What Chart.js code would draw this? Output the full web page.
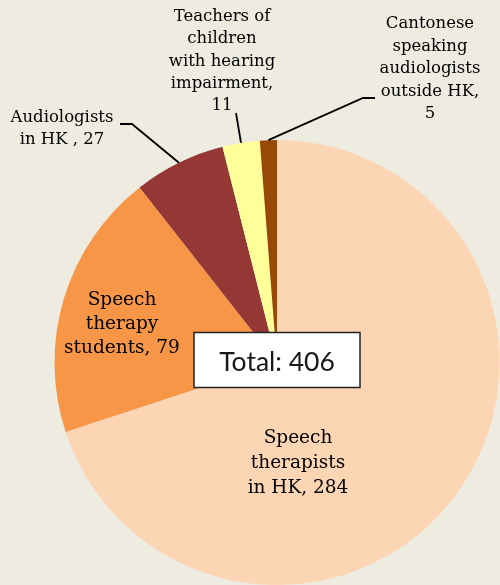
<!DOCTYPE html>
<html>
<head>
<meta charset="utf-8">
<script src="https://cdn.jsdelivr.net/npm/chart.js@4.4.1/dist/chart.umd.min.js"></script>
<style>
  html, body { margin: 0; padding: 0; background: #EEEBE0; }
  #wrap { width: 500px; height: 585px; position: relative; }
</style>
</head>
<body>
<div id="wrap"><canvas id="pie"></canvas></div>
<script>
// data
const labels = [
    ['Speech', 'therapists', 'in HK, 284'],
    ['Speech', 'therapy', 'students, 79'],
    ['Audiologists', 'in HK , 27'],
    ['Teachers of', 'children', 'with hearing', 'impairment,', '11'],
    ['Cantonese', 'speaking', 'audiologists', 'outside HK,', '5']
];
const counts = [284, 79, 27, 11, 5];
const totalText = 'Total: 406';

const colors = ['#FCD5B5', '#F79646', '#953735', '#FFFF99', '#984807'];

// label placement: inside labels use a fixed spot, outside ones get a leader line
const labelLayout = [
    { inside: true, x: 298, y: 438, lh: 25 },
    { inside: true, x: 122, y: 300, lh: 24 },
    { inside: false, x: 62, y: 118, lh: 22, elbow: [132, 124], end: [120, 124] },
    { inside: false, x: 222, y: 17, lh: 22.2, elbow: null, end: [236, 113] },
    { inside: false, x: 430, y: 24, lh: 22.5, elbow: [363, 98], end: [375, 98] }
];

const labelPlugin = {
    id: 'pieLabels',
    afterDatasetsDraw(chart) {
        const c = chart.ctx;
        const arcs = chart.getDatasetMeta(0).data;
        c.save();
        c.textAlign = 'center';
        c.textBaseline = 'middle';
        arcs.forEach((arc, i) => {
            const lay = labelLayout[i];
            const p = arc.getProps(['x', 'y', 'startAngle', 'endAngle', 'outerRadius'], true);
            if (!lay.inside) {
                const mid = (p.startAngle + p.endAngle) / 2;
                const ex = p.x + Math.cos(mid) * p.outerRadius;
                const ey = p.y + Math.sin(mid) * p.outerRadius;
                c.strokeStyle = '#000';
                c.lineWidth = 1.8;
                c.beginPath();
                c.moveTo(ex, ey);
                if (lay.elbow) c.lineTo(lay.elbow[0], lay.elbow[1]);
                c.lineTo(lay.end[0], lay.end[1]);
                c.stroke();
                c.font = '16.5px "DejaVu Serif"';
            } else {
                c.font = '18.5px "DejaVu Serif"';
            }
            c.fillStyle = '#000';
            labels[i].forEach((line, k) => {
                c.fillText(line, lay.x, lay.y + k * lay.lh);
            });
        });

        // total box in the middle
        const cx = arcs[0].x, cy = arcs[0].y;
        c.fillStyle = '#fff';
        c.fillRect(cx - 83, cy - 30, 166, 55);
        c.strokeStyle = '#222';
        c.lineWidth = 1.5;
        c.strokeRect(cx - 83, cy - 30, 166, 55);
        c.fillStyle = '#1a1a1a';
        c.font = '26.5px Lato';
        c.fillText(totalText, cx, cy);
        c.restore();
    }
};

new Chart(document.getElementById('pie'), {
    type: 'pie',
    data: {
        labels: labels.map(l => l.join(' ')),
        datasets: [{
            data: counts,
            backgroundColor: colors,
            borderWidth: 0
        }]
    },
    options: {
        responsive: true,
        maintainAspectRatio: false,
        animation: false,
        layout: { padding: { top: 140, bottom: 0, left: 54, right: 0 } },
        plugins: {
            legend: { display: false },
            tooltip: { enabled: false }
        }
    },
    plugins: [labelPlugin]
});
</script>
</body>
</html>
